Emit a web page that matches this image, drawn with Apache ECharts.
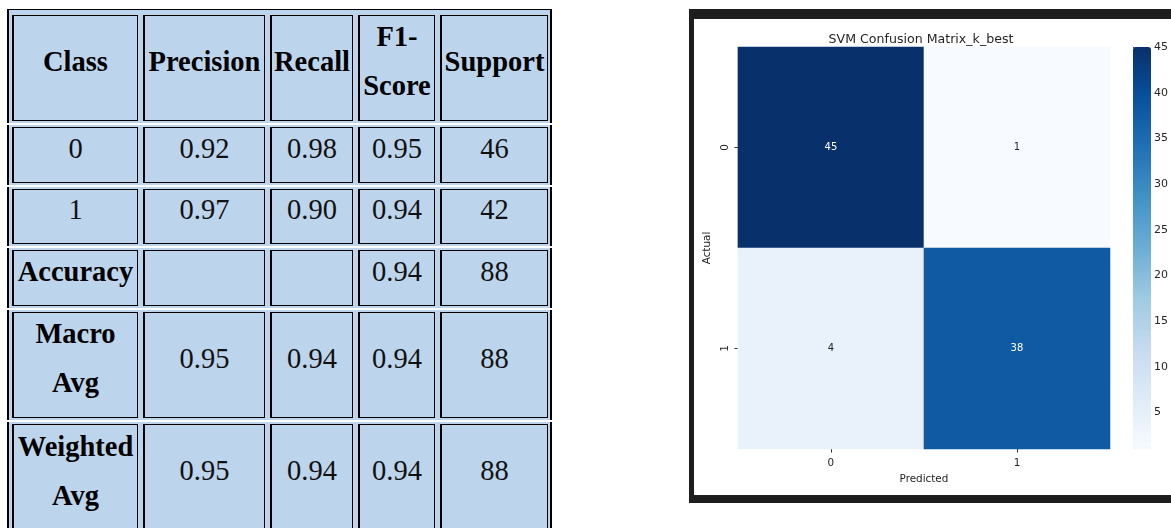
<!DOCTYPE html>
<html>
<head>
<meta charset="utf-8">
<title>SVM k_best results</title>
<script src="https://cdn.jsdelivr.net/npm/echarts@6/dist/echarts.min.js"></script>
<style>
  html, body { margin: 0; padding: 0; background: #fff; width: 1171px; height: 528px; overflow: hidden; }
  #report { position: absolute; left: 7px; top: 9px; font-family: "Liberation Serif", "Times New Roman", serif; }
  .strip { display: flex; gap: 5px; background: #bdd5ec; border-left: 2px solid #000; border-right: 2px solid #000;
           padding: 2px 2px 2px 3px; margin-top: 2px; }
  .strip.first { border-top: 1px solid #000; padding-top: 5px; margin-top: 0; }
  .cell { box-sizing: border-box; border: 1px solid #000; border-left-width: 2px; display: flex; align-items: center;
          justify-content: center; text-align: center; padding-bottom: 14px; font-size: 28.5px; line-height: 49px; color: #111; }
  .cell.head { font-weight: bold; color: #000; }
  #frame { position: absolute; left: 689px; top: 9px; width: 500px; height: 476px; background: #fff;
           border-top: 10px solid #1e1e1e; border-left: 5px solid #1e1e1e; border-bottom: 8px solid #1e1e1e; }
  #chart { position: absolute; left: 0; top: 0; width: 477px; height: 476px; }
</style>
</head>
<body>
<div id="report"></div>
<div id="frame"><div id="chart"></div></div>
<script>
// Classification report
const reportColumns = ['Class', 'Precision', 'Recall', 'F1-Score', 'Support'];
const reportRows = ['0', '1', 'Accuracy', 'Macro Avg', 'Weighted Avg'];
const precision = ['0.92', '0.97', '', '0.95', '0.95'];
const recall = ['0.98', '0.90', '', '0.94', '0.94'];
const f1Score = ['0.95', '0.94', '0.94', '0.94', '0.94'];
const support = ['46', '42', '88', '88', '88'];

// Confusion matrix (rows: actual, columns: predicted)
const predictedLabels = ['0', '1'];
const actualLabels = ['0', '1'];
const matrixValues = [
  [45, 1],
  [4, 38]
];
const colorbarTicks = [5, 10, 15, 20, 25, 30, 35, 40, 45];

// Table layout
const columnWidths = [126, 122, 83, 77, 108];
const rowHeights = [106, 56, 55, 56, 106, 107];
const boldRowLabels = ['Accuracy', 'Macro Avg', 'Weighted Avg'];

(function buildReport() {
  const host = document.getElementById('report');
  const rows = [reportColumns.map(t => ({ text: t, head: true }))];
  reportRows.forEach((label, i) => {
    rows.push([
      { text: label, head: boldRowLabels.includes(label) },
      { text: precision[i] }, { text: recall[i] }, { text: f1Score[i] }, { text: support[i] }
    ]);
  });
  rows.forEach((row, r) => {
    const strip = document.createElement('div');
    strip.className = 'strip' + (r === 0 ? ' first' : '');
    row.forEach((c, k) => {
      const cell = document.createElement('div');
      cell.className = 'cell' + (c.head ? ' head' : '');
      cell.style.width = columnWidths[k] + 'px';
      cell.style.height = rowHeights[r] + 'px';
      cell.textContent = c.text;
      strip.appendChild(cell);
    });
    host.appendChild(strip);
  });
})();

const blues = ['#f7fbff', '#deebf7', '#c6dbef', '#9ecae1', '#6baed6', '#4292c6', '#2171b5', '#08519c', '#08306b'];
const flat = matrixValues.flat();
const vMin = Math.min(...flat);
const vMax = Math.max(...flat);

const heatData = [];
matrixValues.forEach((row, i) => {
  row.forEach((v, j) => {
    heatData.push({
      value: [j, i, v],
      label: { color: v > (vMin + vMax) / 2 ? '#ffffff' : '#262626' }
    });
  });
});

const font = 'DejaVu Sans';
const chart = echarts.init(document.getElementById('chart'), null, { renderer: 'canvas' });
chart.setOption({
  animation: false,
  title: {
    text: 'SVM Confusion Matrix_k_best',
    left: 222, top: 9, textAlign: 'center',
    textStyle: { fontFamily: font, fontSize: 12.6, fontWeight: 'normal', color: '#262626' }
  },
  grid: [
    { left: 39, top: 28, width: 377, height: 402 },
    { left: 439, top: 28, width: 18, height: 402, show: false }
  ],
  xAxis: [
    {
      type: 'category', data: predictedLabels, gridIndex: 0,
      axisLine: { show: false },
      axisTick: { show: true, alignWithLabel: true, length: 3.5, lineStyle: { color: '#333' } },
      axisLabel: { margin: 9, fontFamily: font, fontSize: 10.4, color: '#262626' },
      splitLine: { show: false }, splitArea: { show: false },
      name: 'Predicted', nameLocation: 'middle', nameGap: 25,
      nameTextStyle: { fontFamily: font, fontSize: 10.4, color: '#262626' }
    },
    { type: 'value', gridIndex: 1, show: false, min: 0, max: 1 }
  ],
  yAxis: [
    {
      type: 'category', data: actualLabels, gridIndex: 0, inverse: true,
      axisLine: { show: false },
      axisTick: { show: true, alignWithLabel: true, length: 3.5, lineStyle: { color: '#333' } },
      axisLabel: { rotate: 90, margin: 8, fontFamily: font, fontSize: 10.4, color: '#262626' },
      splitLine: { show: false }, splitArea: { show: false },
      name: 'Actual', nameLocation: 'middle', nameGap: 22,
      nameTextStyle: { fontFamily: font, fontSize: 10.4, color: '#262626' }
    },
    {
      type: 'value', gridIndex: 1, position: 'right', min: vMin, max: vMax,
      axisLine: { show: false },
      axisTick: { show: true, length: 3, customValues: colorbarTicks, lineStyle: { color: '#333' } },
      axisLabel: { customValues: colorbarTicks, margin: 5, fontFamily: font, fontSize: 11, color: '#262626' },
      splitLine: { show: false }
    }
  ],
  visualMap: {
    type: 'continuous', min: vMin, max: vMax, seriesIndex: 0,
    calculable: false, orient: 'vertical', padding: 0,
    left: 439, top: 28, itemWidth: 18, itemHeight: 402,
    text: null, showLabel: false,
    inRange: { color: blues },
    hoverLink: false
  },
  series: [{
    type: 'heatmap', xAxisIndex: 0, yAxisIndex: 0,
    data: heatData,
    label: { show: true, fontFamily: font, fontSize: 10, formatter: p => p.value[2] },
    emphasis: { disabled: true },
    itemStyle: { borderWidth: 0 }
  }]
});
</script>
</body>
</html>
